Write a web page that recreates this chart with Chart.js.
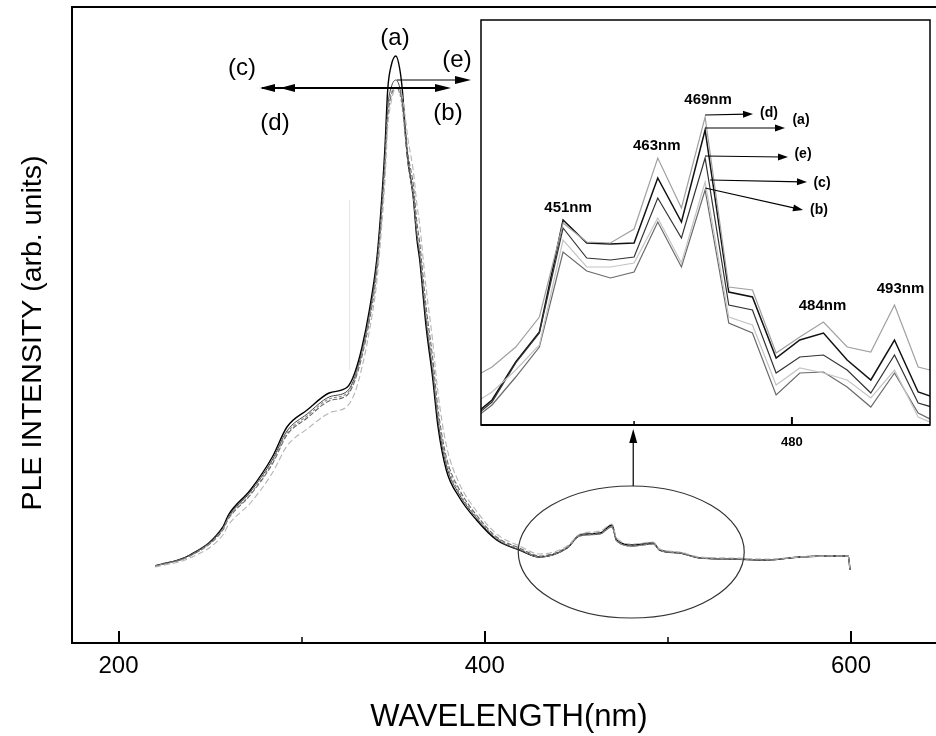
<!DOCTYPE html>
<html><head><meta charset="utf-8">
<script src="https://cdn.jsdelivr.net/npm/chart.js@4.4.1/dist/chart.umd.min.js"></script>
<style>
html,body{margin:0;padding:0;background:#fff;overflow:hidden;width:936px;height:736px;}
#wrap{position:relative;width:936px;height:736px;overflow:hidden;background:#fff;}
canvas{position:absolute;left:0;top:0;}
</style></head><body>
<div id="wrap"><canvas id="main" width="946" height="736"></canvas><canvas id="inset" width="936" height="736"></canvas></div>
<script>
// ---------- DATA ----------
const seriesNames = ['(a)', '(b)', '(c)', '(d)', '(e)'];

// main spectrum (wavelength in nm, intensity in arbitrary units)
const mainWavelength = [220,239,257,260,272,284,292,303,315,325,329,333,337,341,343,345.5,347,349,351.5,353.5,355,357,358,361,363,364.5,368,371.5,374.5,379,386,395.5,406.5,419,430,445,452,463,469.5,472,481,492,495.5,506.5,517.5,535.5,554,572,590,598.5,599.5];
const mainA = [77,88,116,128,153,186,216,233,250,256,270,296,333,383,425,495,553,578,587,575,553,503,483,445,403,383,316,266,216,173,146,123,103,93,86,95,108,110,118,103,98,100,93,90,85,84,83,86,87,87,73];
const mainB = [77,87,113,124,148,179,208,225,242,248,262,287,322,370,410,475,525,548,555,552,540,507,490,458,420,400,336,286,234,186,154,128,106,95,87,96,108,110,117,103,97,100,93,90,85,84,83,86,87,87,73];
const mainC = [77,87,114,125,149,181,210,227,244,250,264,290,325,374,414,480,530,550,555,550,535,498,480,446,410,391,328,278,228,182,151,126,105,94,86,95,107,109,116,102,97,99,93,90,85,84,83,86,87,87,73];
const mainD = [76,85,108,118,140,170,197,214,230,237,250,276,312,360,400,462,515,542,555,555,546,520,505,472,438,418,355,303,250,198,160,132,109,97,89,97,109,112,119,105,99,101,94,91,86,85,84,86,87,87,73];
const mainE = [77,88,115,126,151,183,212,229,246,252,266,292,328,378,418,485,535,556,563,556,540,500,482,447,407,388,322,272,222,178,149,125,104,93,86,95,107,109,116,102,97,99,93,90,85,84,83,86,87,87,73];
const mainTickLabels = [200, 400, 600];
const mainMinorTicks = [300, 500];

// inset (zoom of 440-500 nm region)
const insetWavelength = [439,442,445,448,451,454,457,460,463,466,469,472,475,478,481,484,487,490,493,496,499];
const insetA = [5,25,63,93,205,182,181,182,247,203,295,133,128,67,85,92,65,45,85,33,25];
const insetB = [2,20,48,78,173,154,147,153,203,158,235,102,92,30,52,53,38,18,52,12,0];
const insetC = [18,33,55,80,185,158,158,162,207,162,243,108,100,40,57,52,45,27,55,8,-2];
const insetD = [45,58,78,108,202,183,182,196,267,217,308,138,135,72,88,103,78,73,120,58,52];
const insetE = [3,23,62,92,197,167,165,168,227,187,267,120,115,52,68,70,55,32,70,22,15];
const insetTickLabels = [480];
const insetMinorTicks = [460];
const peakLabels = ['451nm', '463nm', '469nm', '484nm', '493nm'];
const peakWavelengths = [451, 463, 469, 484, 493];

// ---------- STYLES ----------
const FONT = "'Liberation Sans', Arial, Helvetica, sans-serif";
Chart.defaults.font.family = FONT;
Chart.defaults.color = '#000';

const mainStyles = {
  '(a)': {color:'#000000', width:1.4, dash:[]},
  '(b)': {color:'#666666', width:1.1, dash:[5,2]},
  '(c)': {color:'#888888', width:1.1, dash:[3,2]},
  '(d)': {color:'#b4b4b4', width:1.1, dash:[6,3]},
  '(e)': {color:'#444444', width:1.0, dash:[]}
};
const insetStyles = {
  '(a)': {color:'#111111', width:1.5},
  '(b)': {color:'#6a6a6a', width:1.2},
  '(c)': {color:'#c4c4c4', width:1.2},
  '(d)': {color:'#a0a0a0', width:1.2},
  '(e)': {color:'#333333', width:1.2}
};

const mainValues = {'(a)':mainA,'(b)':mainB,'(c)':mainC,'(d)':mainD,'(e)':mainE};
const insetValues = {'(a)':insetA,'(b)':insetB,'(c)':insetC,'(d)':insetD,'(e)':insetE};
const drawOrder = ['(d)','(c)','(b)','(e)','(a)'];

function arrowHead(ctx, x1, y1, x2, y2, len, hw){
  const a = Math.atan2(y2-y1, x2-x1);
  ctx.beginPath();
  ctx.moveTo(x2, y2);
  ctx.lineTo(x2 - len*Math.cos(a) + hw*Math.sin(a), y2 - len*Math.sin(a) - hw*Math.cos(a));
  ctx.lineTo(x2 - len*Math.cos(a) - hw*Math.sin(a), y2 - len*Math.sin(a) + hw*Math.cos(a));
  ctx.closePath();
  ctx.fill();
}

// ---------- MAIN CHART ----------
const mainDecor = {
  id:'mainDecor',
  afterDraw(chart){
    const {ctx, chartArea:a, scales:{x, y}} = chart;
    ctx.save();
    ctx.strokeStyle = '#000'; ctx.fillStyle = '#000'; ctx.setLineDash([]);
    // frame top
    ctx.lineWidth = 2;
    ctx.beginPath(); ctx.moveTo(a.left-1, a.top); ctx.lineTo(a.right, a.top); ctx.stroke();
    // inner ticks
    mainTickLabels.forEach(v => {
      const px = Math.round(x.getPixelForValue(v));
      ctx.beginPath(); ctx.moveTo(px, a.bottom); ctx.lineTo(px, a.bottom-12); ctx.stroke();
    });
    ctx.lineWidth = 1.5;
    mainMinorTicks.forEach(v => {
      const px = Math.round(x.getPixelForValue(v));
      ctx.beginPath(); ctx.moveTo(px, a.bottom); ctx.lineTo(px, a.bottom-6); ctx.stroke();
    });
    // y axis title
    ctx.save();
    ctx.translate(33, 333); ctx.rotate(-Math.PI/2);
    ctx.font = "28.5px " + FONT; ctx.textAlign = 'center'; ctx.textBaseline = 'middle';
    ctx.fillText('PLE INTENSITY (arb. units)', 0, 0);
    ctx.restore();
    // faint scan artifact line
    ctx.strokeStyle = '#e4e4e4'; ctx.lineWidth = 1;
    const fx = x.getPixelForValue(326.2);
    ctx.beginPath(); ctx.moveTo(fx, y.getPixelForValue(443)); ctx.lineTo(fx, y.getPixelForValue(273)); ctx.stroke();
    // ellipse around 440-500 nm region
    ctx.strokeStyle = '#333'; ctx.lineWidth = 1.2;
    const ex = x.getPixelForValue(480), ey = y.getPixelForValue(91);
    ctx.beginPath(); ctx.ellipse(ex, ey, 113, 66, 0, 0, Math.PI*2); ctx.stroke();
    // arrow from ellipse to inset
    ctx.strokeStyle = '#000'; ctx.lineWidth = 1.2;
    const ax = ex + 2;
    ctx.beginPath(); ctx.moveTo(ax, ey-66); ctx.lineTo(ax, 440); ctx.stroke();
    arrowHead(ctx, ax, 460, ax, 429, 14, 4);
    // peak annotations
    const pk = x.getPixelForValue(351.5);
    ctx.lineWidth = 2;
    ctx.beginPath(); ctx.moveTo(262, 88); ctx.lineTo(440, 88); ctx.stroke();
    arrowHead(ctx, 300, 88, 260, 88, 15, 4);
    arrowHead(ctx, 320, 88, 280, 88, 15, 4);
    arrowHead(ctx, 400, 88, 451, 88, 16, 4);
    ctx.lineWidth = 1.2;
    ctx.beginPath(); ctx.moveTo(pk+1, 80); ctx.lineTo(460, 80); ctx.stroke();
    arrowHead(ctx, 420, 80, 471, 80, 16, 4);
    ctx.font = "24px " + FONT;
    ctx.textAlign = 'center'; ctx.textBaseline = 'middle';
    ctx.fillText('(a)', 395, 38);
    ctx.fillText('(c)', 242, 68);
    ctx.fillText('(d)', 275, 123);
    ctx.fillText('(e)', 457, 60);
    ctx.fillText('(b)', 448, 113);
    ctx.restore();
  }
};

new Chart(document.getElementById('main'), {
  type:'line',
  data:{
    datasets: drawOrder.map(n => ({
      label:n,
      data: mainWavelength.map((w,i) => ({x:w, y:mainValues[n][i]})),
      borderColor: mainStyles[n].color,
      borderWidth: mainStyles[n].width,
      borderDash: mainStyles[n].dash,
      pointRadius:0, fill:false,
      cubicInterpolationMode:'monotone'
    }))
  },
  options:{
    responsive:false, animation:false, devicePixelRatio:1,
    layout:{padding:{left:0, top:7, right:0, bottom:0}},
    plugins:{legend:{display:false}, tooltip:{enabled:false}},
    scales:{
      x:{
        type:'linear', min:174.6, max:651.9, position:'bottom',
        afterFit(s){ s.height = 93; },
        afterBuildTicks(s){ s.ticks = mainTickLabels.map(v => ({value:v})); },
        ticks:{font:{size:24, family:FONT}, color:'#000', padding:9, maxRotation:0, autoSkip:false},
        grid:{display:false, drawTicks:false},
        border:{display:true, color:'#000', width:2},
        title:{display:true, text:'WAVELENGTH(nm)', color:'#000', font:{size:31, lineHeight:1, family:FONT}, padding:{top:0, bottom:3}}
      },
      y:{
        min:0, max:636,
        afterFit(s){ s.width = 72; },
        ticks:{display:false},
        grid:{display:false, drawTicks:false},
        border:{display:true, color:'#000', width:2}
      }
    }
  },
  plugins:[mainDecor]
});

// ---------- INSET ----------
const insetDecor = {
  id:'insetDecor',
  beforeDraw(chart){
    const {ctx, chartArea:a} = chart;
    ctx.save(); ctx.fillStyle = '#fff';
    ctx.fillRect(a.left, a.top, a.right-a.left, a.bottom-a.top);
    ctx.restore();
  },
  afterDraw(chart){
    const {ctx, chartArea:a, scales:{x, y}} = chart;
    ctx.save();
    ctx.strokeStyle = '#000'; ctx.fillStyle = '#000';
    ctx.lineWidth = 1.5;
    ctx.strokeRect(a.left, a.top, a.right-a.left, a.bottom-a.top);
    ctx.lineWidth = 2;
    ctx.beginPath(); ctx.moveTo(a.left, a.bottom); ctx.lineTo(a.right, a.bottom); ctx.stroke();
    insetTickLabels.forEach(v => { const px = x.getPixelForValue(v); ctx.beginPath(); ctx.moveTo(px, a.bottom); ctx.lineTo(px, a.bottom-8); ctx.stroke(); });
    ctx.lineWidth = 1.5;
    insetMinorTicks.forEach(v => { const px = x.getPixelForValue(v); ctx.beginPath(); ctx.moveTo(px, a.bottom); ctx.lineTo(px, a.bottom-4); ctx.stroke(); });
    // peak labels (above the top curve)
    const labelOffsets = [[5,-12],[-1,-12],[3,-17],[-1,-16],[6,-16]];
    ctx.font = "bold 15px " + FONT; ctx.textAlign = 'center'; ctx.textBaseline = 'middle';
    peakLabels.forEach((t,i) => {
      const w = peakWavelengths[i];
      const idx = insetWavelength.indexOf(w);
      const top = Math.max(...seriesNames.map(n => insetValues[n][idx]));
      ctx.fillText(t, x.getPixelForValue(w) + labelOffsets[i][0], y.getPixelForValue(top) + labelOffsets[i][1]);
    });
    // series arrows from 469 nm peak
    const i469 = insetWavelength.indexOf(469);
    const px = x.getPixelForValue(469);
    const ends = {'(d)':[753,114,769,113], '(a)':[785,128,801,120], '(e)':[788,157,803,154], '(c)':[807,182,822,183], '(b)':[803,210,819,210]};
    ctx.lineWidth = 1.1; ctx.font = "bold 14px " + FONT;
    Object.keys(ends).forEach(n => {
      const sy = y.getPixelForValue(insetValues[n][i469]) - 2;
      const e = ends[n];
      const sx = n === '(c)' ? px + 5 : px;
      ctx.beginPath(); ctx.moveTo(sx, sy); ctx.lineTo(e[0]-6, e[1] + (sy-e[1])*6/(e[0]-sx)); ctx.stroke();
      arrowHead(ctx, sx, sy, e[0], e[1], 10, 3.5);
      ctx.fillText(n, e[2], e[3]);
    });
    ctx.restore();
  }
};

new Chart(document.getElementById('inset'), {
  type:'line',
  data:{
    datasets: drawOrder.map(n => ({
      label:n,
      data: insetWavelength.map((w,i) => ({x:w, y:insetValues[n][i]})),
      borderColor: insetStyles[n].color,
      borderWidth: insetStyles[n].width,
      pointRadius:0, fill:false, tension:0
    }))
  },
  options:{
    responsive:false, animation:false, devicePixelRatio:1,
    layout:{padding:{left:481, top:20, right:6, bottom:281}},
    plugins:{legend:{display:false}, tooltip:{enabled:false}},
    scales:{
      x:{
        type:'linear', min:440.6, max:497.5,
        afterFit(s){ s.height = 30; },
        afterBuildTicks(s){ s.ticks = insetTickLabels.map(v => ({value:v})); },
        ticks:{font:{size:13, weight:'bold', family:FONT}, color:'#000', padding:10, maxRotation:0, autoSkip:false},
        grid:{display:false, drawTicks:false},
        border:{display:false}
      },
      y:{display:false, min:0, max:405}
    }
  },
  plugins:[insetDecor]
});
</script>
</body></html>
